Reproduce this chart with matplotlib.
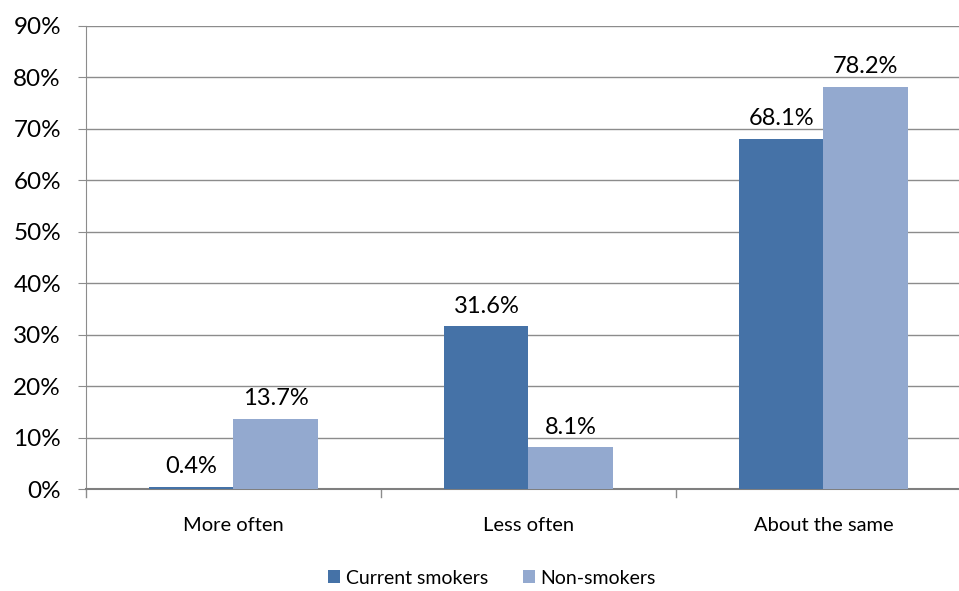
import numpy as np
import matplotlib.pyplot as plt

categories = ["More often", "Less often", "About the same"]
series_names = ["Current smokers", "Non-smokers"]
current_smokers = [0.4, 31.6, 68.1]
non_smokers = [13.7, 8.1, 78.2]
y_ticks = [0, 10, 20, 30, 40, 50, 60, 70, 80, 90]

plt.rcParams["font.family"] = ["Lato", "DejaVu Sans"]

fig = plt.figure(figsize=(9.59, 5.91), dpi=100)
ax = fig.add_axes([86 / 959, (591 - 489) / 591, (959 - 86) / 959, (489 - 26) / 591])

x = np.arange(len(categories))
w = 0.285
dark = "#4572A7"
light = "#93A9CF"

b1 = ax.bar(x - w / 2, current_smokers, w, color=dark, label=series_names[0], zorder=3)
b2 = ax.bar(x + w / 2, non_smokers, w, color=light, label=series_names[1], zorder=3)

for bars, vals in ((b1, current_smokers), (b2, non_smokers)):
    for rect, v in zip(bars, vals):
        ax.annotate(f"{v:.1f}%", (rect.get_x() + rect.get_width() / 2, v),
                    xytext=(0, 7), textcoords="offset points",
                    ha="center", va="bottom", fontsize=17)

ax.set_xlim(-0.5, -0.5 + 873 / 295)
ax.set_ylim(0, 90)
ax.set_yticks(y_ticks)
ax.set_yticklabels([f"{t}%" for t in y_ticks], fontsize=17.5)
ax.yaxis.grid(True, color="#8c8c8c", linewidth=1.0, zorder=0)
ax.tick_params(axis="y", length=6, color="#8c8c8c", pad=12)

ax.set_xticks(x)
ax.set_xticklabels(categories, fontsize=14.5)
ax.tick_params(axis="x", length=0, pad=20)
for b in [-0.5, 0.5, 1.5]:
    ax.plot([b, b], [0, -1.5], color="#8c8c8c", lw=1.0, clip_on=False)

for s in ["top", "right"]:
    ax.spines[s].set_visible(False)
ax.spines["left"].set_color("#8c8c8c")
ax.spines["bottom"].set_color("#7f7f7f")
ax.spines["bottom"].set_linewidth(1.5)

fig.legend(handles=[b1, b2], loc="center", bbox_to_anchor=(492 / 959, 1 - 578 / 591),
           ncol=2, frameon=False, fontsize=14, handlelength=0.6, handleheight=0.6,
           handletextpad=0.3, columnspacing=1.8)

fig.savefig("out.png", dpi=100)
